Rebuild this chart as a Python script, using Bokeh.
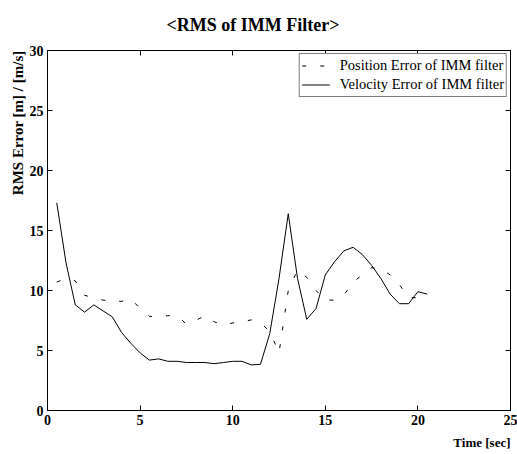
from bokeh.plotting import figure
from bokeh.models import LinearAxis, Range1d, Legend, LegendItem, Title, FixedTicker, CustomJSTickFormatter
from bokeh.embed import file_html
from bokeh.resources import INLINE

time_s = [0.5, 1.0, 1.5, 2.0, 2.5, 3.0, 3.5, 4.0, 4.5, 5.0,
          5.5, 6.0, 6.5, 7.0, 7.5, 8.0, 8.5, 9.0, 9.5, 10.0,
          10.5, 11.0, 11.5, 12.0, 12.5, 13.0, 13.5, 14.0, 14.5, 15.0,
          15.5, 16.0, 16.5, 17.0, 17.5, 18.0, 18.5, 19.0, 19.5, 20.0, 20.5]
position_err = [10.7, 11.0, 10.8, 9.6, 9.4, 9.2, 9.1, 9.1, 9.3, 8.5,
                7.85, 7.8, 7.9, 7.9, 7.2, 7.5, 7.9, 7.4, 7.1, 7.3,
                7.4, 7.55, 7.3, 6.6, 4.8, 10.0, 11.7, 11.1, 10.0, 9.2,
                9.2, 9.6, 10.7, 11.3, 11.9, 11.8, 11.3, 10.5, 9.4, 9.4, 9.3]
velocity_err = [17.3, 12.3, 8.8, 8.2, 8.8, 8.3, 7.8, 6.5, 5.6, 4.8,
                4.2, 4.3, 4.1, 4.1, 4.0, 4.0, 4.0, 3.9, 4.0, 4.1,
                4.1, 3.8, 3.85, 6.4, 11.0, 16.4, 11.0, 7.6, 8.5, 11.3,
                12.4, 13.3, 13.6, 13.0, 12.1, 11.0, 9.7, 8.9, 8.9, 9.9, 9.7]
x_ticks = [0, 5, 10, 15, 20, 25]
y_ticks = [0, 5, 10, 15, 20, 25, 30]

SERIF = "Liberation Serif"

p = figure(width=517, height=454, output_backend="svg", toolbar_location=None,
           x_range=Range1d(0, 25), y_range=Range1d(0, 30),
           min_border_left=47, min_border_right=7, min_border_top=50, min_border_bottom=44,
           title="<RMS of IMM Filter>")
p.title.align = "left"
p.title.offset = 119
p.title.vertical_align = "top"
p.title.text_font = SERIF
p.title.text_font_size = "18px"
p.title.text_font_style = "bold"
p.title.text_color = "black"
p.title.standoff = 28
p.grid.visible = False
p.outline_line_color = "black"
p.outline_line_alpha = 1
p.background_fill_color = "white"
p.border_fill_color = "white"

p.xaxis[0].ticker = FixedTicker(ticks=x_ticks)
p.yaxis[0].ticker = FixedTicker(ticks=y_ticks)
for ax in [p.xaxis[0], p.yaxis[0]]:
    ax.major_tick_in = 5
    ax.major_tick_out = 0
    ax.minor_tick_line_color = None
    ax.axis_line_color = "black"
    ax.major_tick_line_color = "black"
    ax.major_label_text_font = SERIF
    ax.major_label_text_font_size = "14px"
    ax.major_label_text_font_style = "bold"
    ax.major_label_text_color = "black"
    ax.major_label_standoff = 4

top = LinearAxis(ticker=FixedTicker(ticks=x_ticks),
                 formatter=CustomJSTickFormatter(code="return ''"))
right = LinearAxis(ticker=FixedTicker(ticks=y_ticks),
                   formatter=CustomJSTickFormatter(code="return ''"))
for ax in [top, right]:
    ax.major_tick_in = 5
    ax.major_tick_out = 0
    ax.minor_tick_line_color = None
    ax.axis_line_color = "black"
    ax.major_label_standoff = 0
p.add_layout(top, "above")
p.add_layout(right, "right")

p.add_layout(Title(text="RMS Error [m] / [m/s]", align="right", text_font=SERIF,
                   text_font_size="15px", text_font_style="bold", text_color="black",
                   standoff=2), "left")
p.add_layout(Title(text="Time [sec]", align="right", text_font=SERIF,
                   text_font_size="13px", text_font_style="bold", text_color="black"), "below")

r_pos = p.line(time_s, position_err, line_color="black", line_width=1, line_dash="4 14")
r_vel = p.line(time_s, velocity_err, line_color="black", line_width=1)

legend = Legend(items=[LegendItem(label="Position Error of IMM filter", renderers=[r_pos]),
                       LegendItem(label="Velocity Error of IMM filter", renderers=[r_vel])],
                location="top_right")
legend.margin = 3
legend.padding = 2
legend.spacing = 0
legend.border_line_color = "black"
legend.border_line_width = 1
legend.label_text_font = SERIF
legend.label_text_font_size = "14.5px"
legend.label_text_color = "black"
legend.label_height = 19
legend.glyph_height = 19
legend.glyph_width = 28
legend.label_standoff = 10
legend.background_fill_color = "white"
legend.background_fill_alpha = 1
p.add_layout(legend, "center")

open("out.html", "w").write(file_html(p, INLINE))
